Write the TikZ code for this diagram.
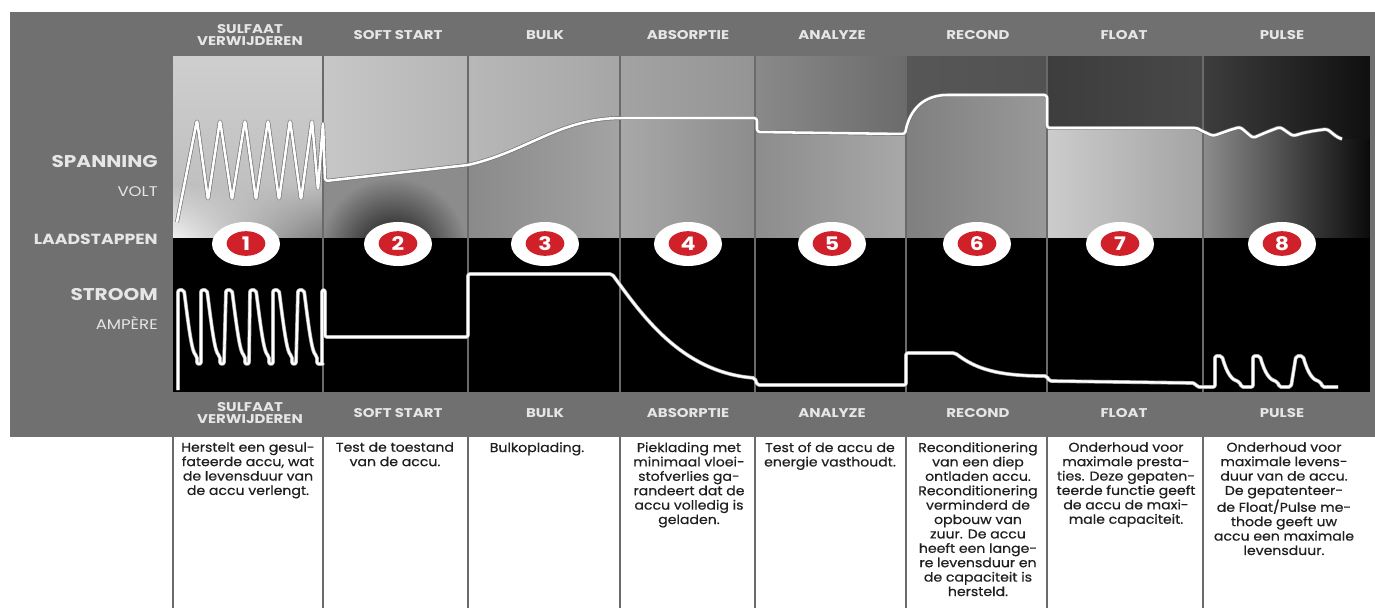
\documentclass[tikz,border=0pt]{standalone}
\usepackage{fontspec}
\setmainfont[FakeStretch=1.18]{Poppins}
\newfontfamily\descfont[FakeStretch=1.1,FakeBold=0.5]{Poppins}
\usetikzlibrary{fadings,shapes.geometric}
\definecolor{bandgray}{HTML}{707070}
\definecolor{redc}{HTML}{D0202A}
\definecolor{sepgray}{HTML}{6A6A6A}
\definecolor{hdrtext}{HTML}{E6E6E6}
\begin{document}
\begin{tikzpicture}[x=0.75pt,y=-0.75pt,
  hdr/.style={text=hdrtext,font=\bfseries\fontsize{9.5}{11}\selectfont,align=center,inner sep=0pt},
  bigl/.style={text=hdrtext,font=\bfseries\fontsize{12.75}{14}\selectfont,anchor=east,inner sep=0pt},
  smalll/.style={text=hdrtext,font=\fontsize{10.5}{12}\selectfont,anchor=east,inner sep=0pt},
  desc/.style={anchor=north,align=center,font=\descfont\fontsize{9.6}{10.8}\selectfont,text=black!88,inner sep=0pt},
  vline/.style={draw=black!55,double=white,double distance=1.9pt,line width=0.5pt,line join=round,rounded corners=2pt},
  iline/.style={draw=gray!70,double=white,double distance=1.8pt,line width=0.5pt,line join=round,rounded corners=1.5pt},
  numw/.style={ellipse,fill=white,minimum width=51pt,minimum height=33pt,inner sep=0pt},
  numr/.style={ellipse,fill=redc,minimum width=29pt,minimum height=18.5pt,inner sep=0pt,text=white,font=\bfseries\fontsize{14}{14}\selectfont},
  colsep/.style={draw=sepgray,line width=1.1pt},
  vcurve/.style={insert path={-- (325,181) -- (468,165) .. controls (530,150) and (560,118) .. (625,118) -- (757,118) -- (757,132) -- (905,134) .. controls (910,108) and (925,95) .. (950,95) -- (1047,95) -- (1047,128) -- (1197,128) -- (1200,130) -- (1213,136) -- (1230,130) -- (1240,127) -- (1253,138) -- (1267,132) -- (1280,127) -- (1293,136) -- (1303,133) -- (1313,131) -- (1327,129) -- (1337,137) -- (1342,139)}}
]
\useasboundingbox (0,0) rectangle (1375,608);
\fill[white] (0,0) rectangle (1375,608);
% gray frame
\fill[bandgray] (10,12) rectangle (1375,437);
% column 1 upper
\shade[top color=black!19,bottom color=black!27] (173,56) rectangle (323,238);
\shade[left color=black!5,right color=black!50,path fading=north] (173,185) rectangle (323,238);
% above-curve region
\begin{scope}
\clip (323,56) -- (323,181) [vcurve] -- (1370,139) -- (1370,56) -- cycle;
\shade[left color=black!22,right color=black!29] (323,56) rectangle (468,240);
\shade[left color=black!28,middle color=black!31,right color=black!35] (468,56) rectangle (620,240);
\shade[left color=black!36,right color=black!42] (620,56) rectangle (755,240);
\shade[left color=black!46,right color=black!58] (755,56) rectangle (906,240);
\shade[left color=black!66,middle color=black!57,right color=black!68] (906,56) rectangle (1047,240);
\shade[left color=black!76,right color=black!72] (1047,56) rectangle (1203,240);
\shade[left color=black!76,right color=black!94] (1203,56) rectangle (1370,240);
\end{scope}
% below-curve region
\begin{scope}
\clip (323,238) -- (323,181) [vcurve] -- (1370,139) -- (1370,238) -- cycle;
\fill[black!45] (323,56) rectangle (468,240);
\shade[inner color=black!95,outer color=black!45] (393,252) circle (75);
\shade[left color=black!46,right color=black!36] (468,56) rectangle (620,240);
\shade[left color=black!34,right color=black!45] (620,56) rectangle (755,240);
\shade[left color=black!45,middle color=black!49,right color=black!34] (755,56) rectangle (906,240);
\shade[left color=black!50,middle color=black!8,right color=black!40] (906,56) rectangle (1047,240);
\shade[left color=black!20,middle color=black!3,right color=black!36] (1047,56) rectangle (1203,240);
\shade[left color=black!45,middle color=black!72,right color=black!96] (1203,56) rectangle (1370,240);
\end{scope}
% black current area
\fill[black] (173,238) rectangle (1370,392);
% column separators
\foreach \xx in {323,468,620,755,906,1047,1203}{
  \draw[colsep] (\xx,56) -- (\xx,392);
}
% header texts top
\node[hdr] (t1) at (250,35) {SULFAAT\\[-2pt]VERWIJDEREN};
\node[hdr] (t2) at (398,35) {SOFT START};
\node[hdr] (t3) at (545,35) {BULK};
\node[hdr] (t4) at (688,35) {ABSORPTIE};
\node[hdr] (t5) at (832,35) {ANALYZE};
\node[hdr] (t6) at (978,35) {RECOND};
\node[hdr] (t7) at (1124,35) {FLOAT};
\node[hdr] (t8) at (1282,35) {PULSE};
% header texts bottom
\node[hdr] (b1) at (250,413) {SULFAAT\\[-2pt]VERWIJDEREN};
\node[hdr] (b2) at (398,413) {SOFT START};
\node[hdr] (b3) at (545,413) {BULK};
\node[hdr] (b4) at (688,413) {ABSORPTIE};
\node[hdr] (b5) at (832,413) {ANALYZE};
\node[hdr] (b6) at (978,413) {RECOND};
\node[hdr] (b7) at (1124,413) {FLOAT};
\node[hdr] (b8) at (1282,413) {PULSE};
% left labels
\node[bigl] (spanning) at (158,162) {SPANNING};
\node[smalll] (volt) at (158,192) {VOLT};
\node[hdr,anchor=east,font=\bfseries\fontsize{11}{12}\selectfont] (laad) at (158,239) {LAADSTAPPEN};
\node[bigl] (stroom) at (158,294) {STROOM};
\node[smalll] (ampere) at (158,323) {AMPÈRE};
% voltage curve
\draw[vline] (177,222) -- (197,120) -- (208,200) -- (220,120) -- (232,200) -- (245,120) -- (256,200) -- (268,120) -- (279,200) -- (290,120) -- (301,200) -- (312,120) -- (318,190) -- (323,122) [vcurve];
% current curve
\draw[iline] (178,390)
  \foreach \x in {178,201,226,250,273,298}{ -- (\x,290) -- (\x+6,290) .. controls (\x+11,330) and (\x+14,352) .. (\x+19,356) -- (\x+19,364) -- (\x+23,364) }
  -- (322,364) -- (322,290) -- (325,290) -- (325,337) -- (468,337) -- (468,274) -- (612,274)
  .. controls (640,312) and (680,372) .. (755,378) -- (757,385) -- (906,385) -- (906,353) -- (955,353)
  .. controls (975,368) and (995,376) .. (1047,376) -- (1049,381) -- (1195,383) -- (1197,387) -- (1215,387)
  \foreach \x in {1215,1253,1296}{ -- (\x,356) -- (\x+7,356) .. controls (\x+12,374) and (\x+17,380) .. (\x+25,382) -- (\x+26,387) -- (\x+38,387) }
  -- (1338,387);
% step number badges
\foreach \n/\xx in {1/246,2/398,3/545,4/688,5/832,6/977,7/1120,8/1282}{
  \node[numw] (w\n) at (\xx,244) {};
  \node[numr] (r\n) at (\xx,243.5) {\n};
}
% description boxes
\foreach \xx in {173,323,468,620,755,906,1047,1203}{
  \draw[draw=sepgray,line width=1.5pt] (\xx,437) -- (\xx,608);
}
\node[desc] (d1) at (248,442) {Herstelt een gesul-\\fateerde accu, wat\\de levensduur van\\de accu verlengt.};
\node[desc] (d2) at (395,442) {Test de toestand\\van de accu.};
\node[desc] (d3) at (537,442) {Bulkoplading.};
\node[desc] (d4) at (689,442) {Pieklading met\\minimaal vloei-\\stofverlies ga-\\randeert dat de\\accu volledig is\\geladen.};
\node[desc] (d5) at (830,442) {Test of de accu de\\energie vasthoudt.};
\node[desc] (d6) at (978,442) {Reconditionering\\van een diep\\ontladen accu.\\Reconditionering\\verminderd de\\opbouw van\\zuur. De accu\\heeft een lange-\\re levensduur en\\de capaciteit is\\hersteld.};
\node[desc] (d7) at (1126,442) {Onderhoud voor\\maximale presta-\\ties. Deze gepaten-\\teerde functie geeft\\de accu de maxi-\\male capaciteit.};
\node[desc] (d8) at (1284,442) {Onderhoud voor\\maximale levens-\\duur van de accu.\\De gepatenteer-\\de Float/Pulse me-\\thode geeft uw\\accu een maximale\\levensduur.};
\end{tikzpicture}
\end{document}
